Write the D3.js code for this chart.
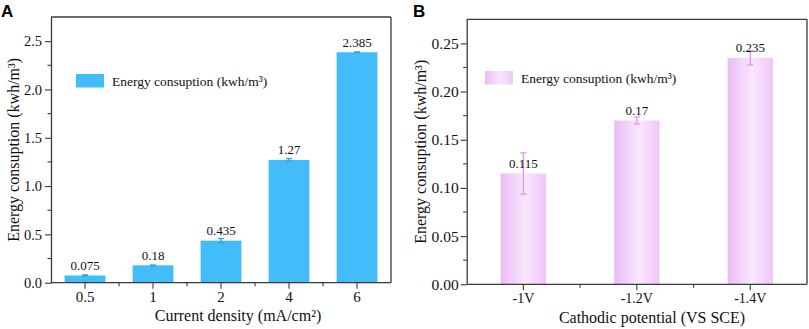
<!DOCTYPE html>
<html>
<head>
<meta charset="utf-8">
<script src="https://cdn.jsdelivr.net/npm/d3@7"></script>
<style>
  body { margin: 0; background: #fff; }
  svg text { fill: #111; }
</style>
</head>
<body>
<svg id="chart" width="809" height="329" font-family='"Liberation Serif", "Times New Roman", serif'></svg>
<script>
// Panel A data
const densityCats = ['0.5', '1', '2', '4', '6'];
const densityVals = [0.075, 0.18, 0.435, 1.27, 2.385];
const densityErr = [0.006, 0.003, 0.022, 0.014, 0.004];
const densityTicks = [0, 0.5, 1.0, 1.5, 2.0, 2.5];

// Panel B data
const potentialCats = ['-1V', '-1.2V', '-1.4V'];
const potentialVals = [0.115, 0.17, 0.235];
const potentialErr = [0.0215, 0.0037, 0.0073];
const potentialTicks = [0, 0.05, 0.10, 0.15, 0.20, 0.25];

const svg = d3.select('#chart');
const axisColor = '#3a3a3a';

const defs = svg.append('defs');
const grad = defs.append('linearGradient').attr('id', 'pinkGrad')
  .attr('x1', '0%').attr('x2', '100%').attr('y1', '0%').attr('y2', '0%');
grad.append('stop').attr('offset', '0%').attr('stop-color', '#ebbcf7');
grad.append('stop').attr('offset', '55%').attr('stop-color', '#f9e7fc');
grad.append('stop').attr('offset', '100%').attr('stop-color', '#efc6f8');

function drawPanel(opt) {
  const { left, right, top, bottom } = opt;

  const x = d3.scaleBand()
    .domain(opt.cats)
    .range([left, right])
    .paddingInner(opt.padInner)
    .paddingOuter(opt.padInner / 2);

  const y = d3.scaleLinear()
    .domain([0, opt.yMax])
    .range([bottom, top]);

  const g = svg.append('g');

  // bars
  g.selectAll('.bar')
    .data(opt.vals)
    .enter().append('rect')
    .attr('x', (d, i) => x(opt.cats[i]))
    .attr('y', d => y(d))
    .attr('width', x.bandwidth())
    .attr('height', d => bottom - y(d))
    .attr('fill', opt.fill);

  // error bars
  const cx = i => x(opt.cats[i]) + x.bandwidth() / 2;
  const err = g.selectAll('.err')
    .data(opt.vals)
    .enter().append('g')
    .attr('stroke', opt.errColor)
    .attr('stroke-width', 1.3);
  err.append('line')
    .attr('x1', (d, i) => cx(i)).attr('x2', (d, i) => cx(i))
    .attr('y1', (d, i) => y(d + opt.err[i])).attr('y2', (d, i) => y(d - opt.err[i]));
  err.append('line')
    .attr('x1', (d, i) => cx(i) - 3).attr('x2', (d, i) => cx(i) + 3)
    .attr('y1', (d, i) => y(d + opt.err[i])).attr('y2', (d, i) => y(d + opt.err[i]));
  err.append('line')
    .attr('x1', (d, i) => cx(i) - 3).attr('x2', (d, i) => cx(i) + 3)
    .attr('y1', (d, i) => y(d - opt.err[i])).attr('y2', (d, i) => y(d - opt.err[i]));

  // value labels
  g.selectAll('.val')
    .data(opt.vals)
    .enter().append('text')
    .attr('x', (d, i) => cx(i))
    .attr('y', d => y(d) - 5.5)
    .attr('text-anchor', 'middle')
    .attr('font-size', 13)
    .text((d, i) => opt.labels[i]);

  // frame (top and right)
  g.append('line').attr('x1', left).attr('x2', right).attr('y1', top).attr('y2', top)
    .attr('stroke', axisColor).attr('stroke-width', 1.3);
  g.append('line').attr('x1', right).attr('x2', right).attr('y1', top).attr('y2', bottom)
    .attr('stroke', axisColor).attr('stroke-width', 1.3);

  // y axis
  const yAxis = g.append('g')
    .attr('transform', `translate(${left},0)`)
    .call(d3.axisLeft(y).tickValues(opt.yTicks).tickFormat(opt.yFormat).tickSize(6).tickSizeOuter(0).tickPadding(opt.yPad));
  // minor y ticks
  const minorY = d3.range(opt.yMinorStep, opt.yMax, opt.yMinorStep * 2);
  g.selectAll('.ymin').data(minorY).enter().append('line')
    .attr('x1', left - 3.5).attr('x2', left)
    .attr('y1', d => y(d)).attr('y2', d => y(d))
    .attr('stroke', axisColor).attr('stroke-width', 1.1);

  // x axis
  const xAxis = g.append('g')
    .attr('transform', `translate(0,${bottom})`)
    .call(d3.axisBottom(x).tickSize(6).tickSizeOuter(0).tickPadding(3));
  // minor x ticks between categories
  const minorX = opt.cats.slice(1).map(c => x(c) - x.step() * opt.padInner / 2);
  g.selectAll('.xmin').data(minorX).enter().append('line')
    .attr('x1', d => d).attr('x2', d => d)
    .attr('y1', bottom).attr('y2', bottom + 3.5)
    .attr('stroke', axisColor).attr('stroke-width', 1.1);

  [yAxis, xAxis].forEach(a => {
    a.attr('font-family', null);
    a.select('.domain').attr('stroke', axisColor).attr('stroke-width', 1.3);
    a.selectAll('.tick line').attr('stroke', axisColor).attr('stroke-width', 1.1);
    a.selectAll('.tick text').attr('fill', '#111');
  });
  yAxis.attr('font-size', opt.yFont);
  xAxis.attr('font-size', opt.xFont);
  xAxis.select('.domain').attr('d', `M${left},0H${right}`);

  // axis titles
  svg.append('text')
    .attr('transform', `translate(${opt.yTitleX},${(top + bottom) / 2}) rotate(-90)`)
    .attr('text-anchor', 'middle')
    .attr('font-size', 16)
    .text('Energy consuption (kwh/m³)');
  svg.append('text')
    .attr('x', opt.xTitleX)
    .attr('y', opt.xTitleY)
    .attr('text-anchor', 'middle')
    .attr('font-size', 16)
    .text(opt.xTitle);

  // legend
  svg.append('rect')
    .attr('x', opt.legX).attr('y', opt.legY)
    .attr('width', 28).attr('height', 13.5)
    .attr('fill', opt.fill);
  svg.append('text')
    .attr('x', opt.legX + 36).attr('y', opt.legY + 11.5)
    .attr('font-size', 13.5)
    .text('Energy consuption (kwh/m³)');

  // panel letter
  svg.append('text')
    .attr('x', opt.letterX).attr('y', 17)
    .style('font-family', '"Liberation Sans", Arial, sans-serif')
    .style('font-weight', 'bold')
    .attr('font-size', 17)
    .style('fill', '#000')
    .text(opt.letter);
}

drawPanel({
  cats: densityCats, vals: densityVals, err: densityErr,
  labels: ['0.075', '0.18', '0.435', '1.27', '2.385'],
  left: 51, right: 391, top: 17, bottom: 282.7,
  padInner: 0.4, yMax: 2.75, yTicks: densityTicks, yMinorStep: 0.25,
  yFormat: d3.format('.1f'), yPad: 3, yFont: 14.5, xFont: 15,
  fill: '#43bdf9', errColor: '#2aa6e8',
  xTitle: 'Current density (mA/cm²)', xTitleX: 238, xTitleY: 321, yTitleX: 19,
  legX: 76, legY: 74, letter: 'A', letterX: 1
});

drawPanel({
  cats: potentialCats, vals: potentialVals, err: potentialErr,
  labels: ['0.115', '0.17', '0.235'],
  left: 466.7, right: 807, top: 19.3, bottom: 284.3,
  padInner: 0.6, yMax: 0.275, yTicks: potentialTicks, yMinorStep: 0.025,
  yFormat: d3.format('.2f'), yPad: 2, yFont: 15.5, xFont: 14,
  fill: 'url(#pinkGrad)', errColor: '#e393f0',
  xTitle: 'Cathodic potential (VS SCE)', xTitleX: 652, xTitleY: 323, yTitleX: 426,
  legX: 485, legY: 71, letter: 'B', letterX: 413
});
</script>
</body>
</html>
